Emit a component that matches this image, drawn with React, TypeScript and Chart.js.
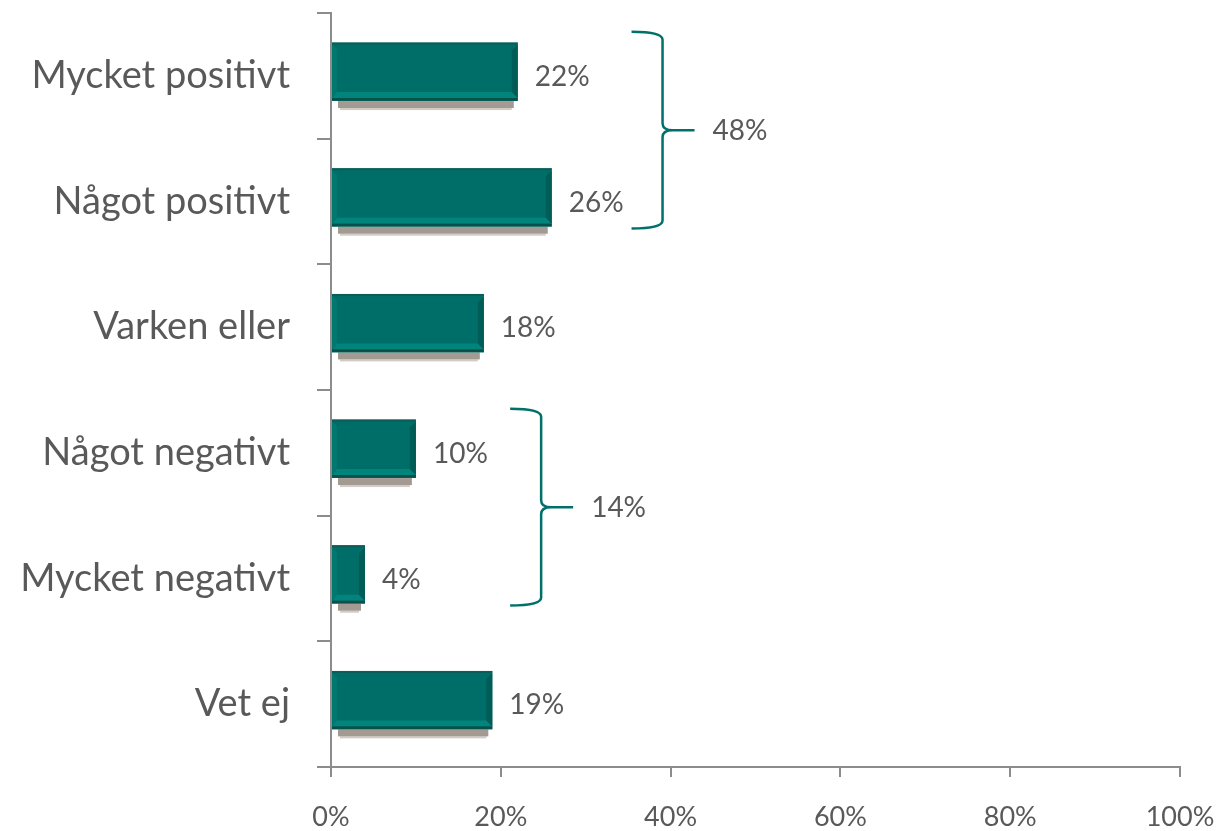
import React, { useEffect, useRef } from "react";
import { Chart, registerables } from "chart.js";

Chart.register(...registerables);

const categories = [
  "Mycket positivt",
  "Något positivt",
  "Varken eller",
  "Något negativt",
  "Mycket negativt",
  "Vet ej",
];
const values = [22, 26, 18, 10, 4, 19];
const xTickValues = [0, 20, 40, 60, 80, 100];

const bracketFrom = [0, 3];
const bracketTo = [1, 4];
const bracketLabels = ["48%", "14%"];
const bracketAt = [35.4, 21.1];

const TEXT = "#595959";
const AXIS = "#8C8C8C";
const TEAL = "#006E68";
const FONT = "Lato, 'Open Sans', sans-serif";

const BAR_SHIFT = -4;

const barDecor = {
  id: "barDecor",
  beforeDatasetsDraw(chart: any) {
    const ctx = chart.ctx;
    ctx.save();
    ctx.translate(0, BAR_SHIFT);
    const meta = chart.getDatasetMeta(0);
    meta.data.forEach((el: any) => {
      const x0 = Math.min(el.base, el.x);
      const x1 = Math.max(el.base, el.x);
      const y1 = el.y + el.height / 2;
      ctx.fillStyle = "#A39A92";
      ctx.fillRect(x0 + 6, y1, Math.max(0, x1 - x0 - 10), 7);
      ctx.fillStyle = "rgba(163,154,146,0.5)";
      ctx.fillRect(x0 + 8, y1 + 7, Math.max(0, x1 - x0 - 14), 2);
    });
  },
  afterDatasetsDraw(chart: any) {
    const ctx = chart.ctx;
    const meta = chart.getDatasetMeta(0);
    meta.data.forEach((el: any) => {
      const x0 = Math.min(el.base, el.x);
      const x1 = Math.max(el.base, el.x);
      const y0 = el.y - el.height / 2;
      const y1 = el.y + el.height / 2;
      const w = x1 - x0;
      ctx.fillStyle = "#0C5D58";
      ctx.fillRect(x0, y0, w, 2);
      ctx.fillStyle = "rgba(0,140,130,0.35)";
      ctx.beginPath();
      ctx.moveTo(x0, y0 + 2);
      ctx.lineTo(x0 + 5, y0 + 7);
      ctx.lineTo(x0 + 5, y1 - 9);
      ctx.lineTo(x0, y1 - 4);
      ctx.closePath();
      ctx.fill();
      ctx.fillStyle = "#00847C";
      ctx.beginPath();
      ctx.moveTo(x0, y1 - 3);
      ctx.lineTo(x0 + 5, y1 - 9);
      ctx.lineTo(x1 - 6, y1 - 9);
      ctx.lineTo(x1, y1 - 3);
      ctx.closePath();
      ctx.fill();
      ctx.fillStyle = "#005C56";
      ctx.beginPath();
      ctx.moveTo(x1, y0 + 2);
      ctx.lineTo(x1 - 6, y0 + 8);
      ctx.lineTo(x1 - 6, y1 - 9);
      ctx.lineTo(x1, y1 - 3);
      ctx.closePath();
      ctx.fill();
      ctx.fillStyle = "#0A4F4A";
      ctx.fillRect(x0, y1 - 3, w, 2.5);
    });
    ctx.restore();

    ctx.save();
    ctx.fillStyle = TEXT;
    ctx.font = `28px ${FONT}`;
    ctx.textAlign = "left";
    ctx.textBaseline = "middle";
    meta.data.forEach((el: any, i: number) => {
      ctx.fillText(`${values[i]}%`, el.x + 17, el.y + 1);
    });
    ctx.restore();
  },
};

const brackets = {
  id: "brackets",
  afterDraw(chart: any) {
    const ctx = chart.ctx;
    const xs = chart.scales.x;
    const ys = chart.scales.y;
    ctx.save();
    for (let i = 0; i < bracketFrom.length; i++) {
      const top = ys.getPixelForValue(bracketFrom[i]) - 44;
      const bot = ys.getPixelForValue(bracketTo[i]) + 27;
      const mid = (top + bot) / 2;
      const xl = xs.getPixelForValue(bracketAt[i]);
      const xv = xl + 31;
      const xt = xv + 32;
      ctx.strokeStyle = "#00706A";
      ctx.lineWidth = 2.5;
      ctx.lineJoin = "round";
      ctx.beginPath();
      ctx.moveTo(xl, top);
      ctx.quadraticCurveTo(xv, top, xv, top + 8);
      ctx.lineTo(xv, mid - 7);
      ctx.quadraticCurveTo(xv, mid, xv + 10, mid);
      ctx.lineTo(xt, mid);
      ctx.moveTo(xv + 10, mid);
      ctx.quadraticCurveTo(xv, mid, xv, mid + 7);
      ctx.lineTo(xv, bot - 8);
      ctx.quadraticCurveTo(xv, bot, xl, bot);
      ctx.stroke();
      ctx.fillStyle = TEXT;
      ctx.font = `28px ${FONT}`;
      ctx.textAlign = "left";
      ctx.textBaseline = "middle";
      ctx.fillText(bracketLabels[i], xt + 18, mid + 1);
    }
    ctx.restore();
  },
};

export default function App() {
  const ref = useRef<HTMLCanvasElement | null>(null);
  useEffect(() => {
    document.body.style.margin = "0";
    if (!ref.current) return;
    const chart = new Chart(ref.current, {
      type: "bar",
      data: {
        labels: categories,
        datasets: [
          {
            data: values,
            backgroundColor: TEAL,
            borderWidth: 0,
            categoryPercentage: 1,
            barPercentage: 0.465,
          },
        ],
      },
      options: {
        indexAxis: "y",
        animation: false,
        responsive: true,
        maintainAspectRatio: false,
        layout: { padding: { top: 13, right: 41, left: 0, bottom: 0 } },
        plugins: {
          legend: { display: false },
          tooltip: { enabled: false },
        },
        scales: {
          x: {
            min: 0,
            max: 100,
            afterFit(scale: any) {
              scale.height = 64;
              scale.paddingLeft = 0;
              scale.paddingRight = 0;
            },
            afterBuildTicks(scale: any) {
              scale.ticks = xTickValues.map((v) => ({ value: v }));
            },
            ticks: {
              callback: (v: any) => `${v}%`,
              color: TEXT,
              font: { family: FONT, size: 27 },
              padding: 24,
              maxRotation: 0,
            },
            grid: {
              drawOnChartArea: false,
              drawTicks: true,
              tickLength: 10,
              color: AXIS,
              lineWidth: 2,
            },
            border: { display: true, color: AXIS, width: 2 },
          },
          y: {
            afterFit(scale: any) {
              scale.width = 331;
              scale.paddingTop = 0;
              scale.paddingBottom = 0;
            },
            ticks: {
              color: TEXT,
              font: { family: FONT, size: 38 },
              padding: 27,
            },
            grid: {
              drawOnChartArea: false,
              drawTicks: true,
              tickLength: 14,
              color: AXIS,
              lineWidth: 2,
              offset: true,
            },
            border: { display: true, color: AXIS, width: 2 },
          },
        },
      },
      plugins: [barDecor, brackets],
    });
    return () => chart.destroy();
  }, []);
  return (
    <div style={{ position: "fixed", left: 0, top: 0, width: 1221, height: 831, background: "#fff" }}>
      <canvas ref={ref} />
    </div>
  );
}
